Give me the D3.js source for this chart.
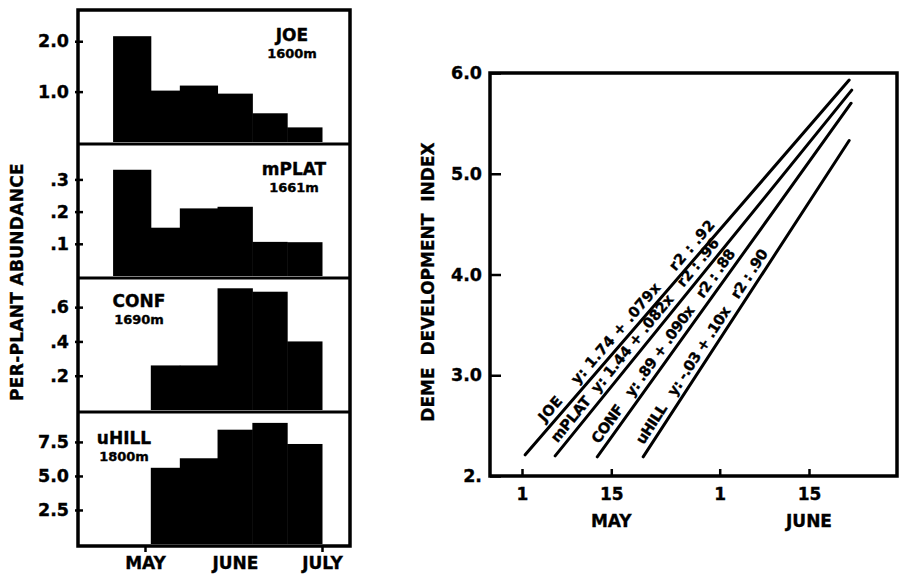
<!DOCTYPE html>
<html>
<head>
<meta charset="utf-8">
<script src="https://cdn.jsdelivr.net/npm/d3@7"></script>
<style>
  body { margin: 0; background: #fff; }
  svg text { font-family: "DejaVu Sans", sans-serif; font-weight: bold; fill: #000; stroke: #000; stroke-width: 0.35px; }
</style>
</head>
<body>
<script>
// ---- left: per-plant abundance histograms (days counted from May 1) ----
const binEdges = [-11, 2, 12, 25, 37, 49, 61];
const sites = ["JOE", "mPLAT", "CONF", "uHILL"];
const elevations = ["1600m", "1661m", "1690m", "1800m"];
const joeAbund = [2.1, 1.02, 1.12, 0.96, 0.57, 0.29];
const mplatAbund = [0.33, 0.15, 0.21, 0.215, 0.106, 0.105];
const confAbund = [null, 0.26, 0.26, 0.71, 0.69, 0.40];
const uhillAbund = [null, 5.6, 6.3, 8.4, 8.9, 7.35];
const panelTicks = [[1, 2], [0.1, 0.2, 0.3], [0.2, 0.4, 0.6], [2.5, 5, 7.5]];
const panelTickLabels = [["1.0", "2.0"], [".1", ".2", ".3"], [".2", ".4", ".6"], ["2.5", "5.0", "7.5"]];
const panelMax = [2.62, 0.41, 0.77, 9.7];
const monthDays = [0, 31, 61];
const monthNames = ["MAY", "JUNE", "JULY"];

// ---- right: deme development index regressions ----
const devTicks = [2, 3, 4, 5, 6];
const devTickLabels = ["2.", "3.0", "4.0", "5.0", "6.0"];
const dateTicks = [0, 14, 31, 45];
const dateTickLabels = ["1", "15", "1", "15"];
const dateMonthAt = [14, 45];
const dateMonthNames = ["MAY", "JUNE"];
const lineStartDay = [0.5, 5.2, 11.8, 19.0];
const lineEndDay = [51.3, 51.7, 51.6, 51.3];
const lineStartIdx = [2.21, 2.20, 2.19, 2.19];
const lineEndIdx = [5.93, 5.83, 5.70, 5.33];
const lineEquations = [
  "JOE    y: 1.74 + .079x    r2 : .92",
  "mPLAT  y: 1.44 + .082x   r2 : .96",
  "CONF   y: .89 + .090x   r2 : .88",
  "uHILL   y: -.03 + .10x   r2 : .90"
];

const width = 899, height = 576;
const svg = d3.select("body").append("svg")
  .attr("width", width)
  .attr("height", height);

// ================= left chart =================
const L = {left: 78, right: 350, top: 10, bottom: 546};
const panelH = (L.bottom - L.top) / 4;
const xMonth = d3.scaleLinear().domain([0, 61]).range([145, 322]);
const abund = [joeAbund, mplatAbund, confAbund, uhillAbund];

const left = svg.append("g").attr("id", "abundance");

abund.forEach((vals, p) => {
  const top = L.top + p * panelH, bot = top + panelH;
  const ys = d3.scaleLinear().domain([0, panelMax[p]]).range([bot - 2, top]);
  const g = left.append("g");

  g.selectAll("rect")
    .data(vals.map((v, i) => ({v: v, x0: binEdges[i], x1: binEdges[i + 1]})).filter(d => d.v !== null))
    .enter().append("rect")
    .attr("x", d => xMonth(d.x0))
    .attr("width", d => xMonth(d.x1) - xMonth(d.x0) + 0.5)
    .attr("y", d => ys(d.v))
    .attr("height", d => bot - 2 - ys(d.v))
    .attr("fill", "#000");

  const ax = g.append("g")
    .attr("transform", "translate(" + L.left + ",0)")
    .call(d3.axisLeft(ys).tickValues(panelTicks[p])
      .tickFormat((d, i) => panelTickLabels[p][i])
      .tickSize(-5).tickPadding(9));
  ax.select(".domain").remove();
  ax.selectAll("line").attr("stroke-width", 2.5).attr("x1", -3);
  ax.selectAll("text").style("font-size", "17.5px");

  // site name + elevation
  const labelPos = [[292, 41], [294, 175], [139, 307], [124, 444]][p];
  g.append("text").attr("x", labelPos[0]).attr("y", labelPos[1])
    .attr("text-anchor", "middle").style("font-size", "17px").text(sites[p]);
  g.append("text").attr("x", labelPos[0]).attr("y", labelPos[1] + 17)
    .attr("text-anchor", "middle").style("font-size", "13px").text(elevations[p]);

  if (p > 0) {
    left.append("line")
      .attr("x1", L.left).attr("x2", L.right)
      .attr("y1", top).attr("y2", top)
      .attr("stroke", "#000").attr("stroke-width", 3);
  }
});

left.append("rect")
  .attr("x", L.left).attr("y", L.top)
  .attr("width", L.right - L.left).attr("height", L.bottom - L.top)
  .attr("fill", "none").attr("stroke", "#000").attr("stroke-width", 3.5);

const mAx = left.append("g")
  .attr("transform", "translate(0," + L.bottom + ")")
  .call(d3.axisBottom(xMonth).tickValues(monthDays)
    .tickFormat((d, i) => monthNames[i])
    .tickSize(6).tickPadding(5));
mAx.select(".domain").remove();
mAx.selectAll("line").attr("stroke-width", 2.5).filter(d => d === 31).remove();
mAx.selectAll("text").style("font-size", "17px");

left.append("text")
  .attr("transform", "translate(23,282) rotate(-90)")
  .attr("text-anchor", "middle")
  .style("font-size", "17px")
  .style("letter-spacing", "0.3px")
  .text("PER-PLANT ABUNDANCE");

// ================= right chart =================
const R = {left: 490, right: 897, top: 73, bottom: 476};
const xDay = d3.scaleLinear().domain([0, 45]).range([522, 809]);
const yDev = d3.scaleLinear().domain([2, 6]).range([R.bottom, R.top]);
const right = svg.append("g").attr("id", "development");

right.append("rect")
  .attr("x", R.left).attr("y", R.top)
  .attr("width", R.right - R.left).attr("height", R.bottom - R.top)
  .attr("fill", "none").attr("stroke", "#000").attr("stroke-width", 3.5);

const yAx = right.append("g")
  .attr("transform", "translate(" + R.left + ",0)")
  .call(d3.axisLeft(yDev).tickValues(devTicks)
    .tickFormat((d, i) => devTickLabels[i])
    .tickSize(-11).tickPadding(8));
yAx.select(".domain").remove();
yAx.selectAll("line").attr("stroke-width", 2.5);
yAx.selectAll("text").style("font-size", "17.5px");

const xAx = right.append("g")
  .attr("transform", "translate(0," + R.bottom + ")")
  .call(d3.axisBottom(xDay).tickValues(dateTicks)
    .tickFormat((d, i) => dateTickLabels[i])
    .tickSize(-7).tickPadding(12));
xAx.select(".domain").remove();
xAx.selectAll("line").attr("stroke-width", 2.5);
xAx.selectAll("text").style("font-size", "17px");

right.selectAll(".month")
  .data(dateMonthAt)
  .enter().append("text")
  .attr("class", "month")
  .attr("x", d => xDay(d))
  .attr("y", 527)
  .attr("text-anchor", "middle")
  .style("font-size", "17px")
  .text((d, i) => dateMonthNames[i]);

right.append("text")
  .attr("transform", "translate(434,282) rotate(-90)")
  .attr("text-anchor", "middle")
  .attr("xml:space", "preserve")
  .style("font-size", "17px")
  .text("DEME  DEVELOPMENT  INDEX");

// label positions along each line: [start, end] distance from line start
const labelAlong = [[37, 298], [11, 269], [11, 246], [10, 239]];

lineEquations.forEach((eq, i) => {
  const x0 = xDay(lineStartDay[i]), y0 = yDev(lineStartIdx[i]);
  const x1 = xDay(lineEndDay[i]), y1 = yDev(lineEndIdx[i]);
  right.append("line")
    .attr("x1", x0).attr("y1", y0).attr("x2", x1).attr("y2", y1)
    .attr("stroke", "#000").attr("stroke-width", 3)
    .attr("stroke-linecap", "round");
  const ang = Math.atan2(y1 - y0, x1 - x0) * 180 / Math.PI;
  right.append("text")
    .attr("transform", "translate(" + x0 + "," + y0 + ") rotate(" + ang + ")")
    .attr("x", labelAlong[i][0])
    .attr("y", -6)
    .attr("xml:space", "preserve")
    .attr("textLength", labelAlong[i][1] - labelAlong[i][0])
    .attr("lengthAdjust", "spacing")
    .style("font-size", "14.5px")
    .text(eq);
});
</script>
</body>
</html>
